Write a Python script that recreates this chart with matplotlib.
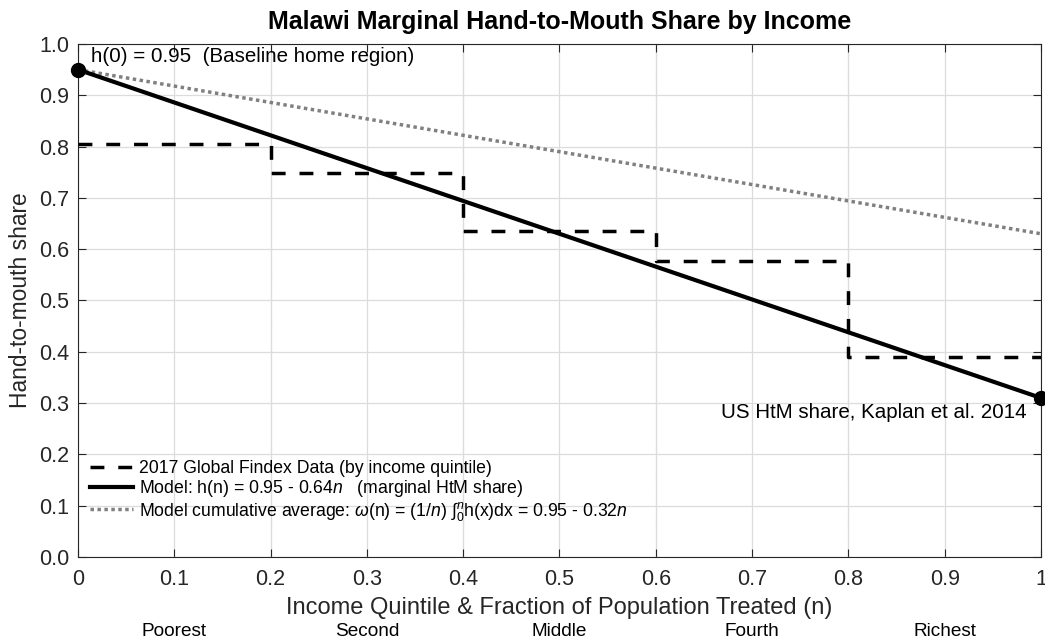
import numpy as np
import matplotlib.pyplot as plt

plt.rcParams['font.family'] = ['Liberation Sans', 'DejaVu Sans']
plt.rcParams['mathtext.fontset'] = 'custom'
plt.rcParams['mathtext.rm'] = 'Liberation Sans'
plt.rcParams['mathtext.it'] = 'Liberation Sans:italic'

# Findex HtM share by income quintile
quintile_edges = [0.0, 0.2, 0.4, 0.6, 0.8, 1.0]
findex_share = [0.805, 0.748, 0.636, 0.577, 0.389]
quintile_names = ['Poorest', 'Second', 'Middle', 'Fourth', 'Richest']

# linear model h(n) = h0 - slope*n
h0 = 0.95
slope = 0.64
n = np.array([0.0, 1.0])
h_marg = h0 - slope * n
h_avg = h0 - slope / 2 * n

x_ticks = [0, 0.1, 0.2, 0.3, 0.4, 0.5, 0.6, 0.7, 0.8, 0.9, 1]
x_ticklabels = ['0', '0.1', '0.2', '0.3', '0.4', '0.5', '0.6', '0.7', '0.8', '0.9', '1']
y_ticks = np.round(np.arange(0, 1.01, 0.1), 1)

fig = plt.figure(figsize=(10.45, 6.42), dpi=100)
ax = fig.add_axes([0.0746, 0.1324, 0.9216, 0.7991])

txt_gray = '#262626'

ax.grid(True, color='#dcdcdc', lw=0.9, zorder=0)
for xb in quintile_edges[1:-1]:
    ax.axvline(xb, color='#a0a0a0', lw=0.8, ls=(0, (1, 1.5)), zorder=1)

step_y = findex_share + [findex_share[-1]]
ax.step(quintile_edges, step_y, where='post', color='black', lw=2.5,
        ls=(0, (4, 4)), zorder=3,
        label='2017 Global Findex Data (by income quintile)')
ax.plot(n, h_marg, color='black', lw=3, zorder=4,
        label=r'Model: h(n) = 0.95 - 0.64$n$   (marginal HtM share)')
ax.plot(n, h_avg, color='#808080', lw=2.5, ls=(0, (1, 1)), zorder=3,
        label='Model cumulative average: $\\omega$(n) = (1/$n$) \u222b${}_0^n$h(x)dx = 0.95 - 0.32$n$')
ax.plot(n, h_marg, 'o', color='black', ms=10, clip_on=False, zorder=5)

ax.text(0.0135, 0.975, 'h(0) = 0.95  (Baseline home region)', fontsize=14.8,
        va='center', ha='left')
ax.text(0.9855, 0.281, 'US HtM share, Kaplan et al. 2014', fontsize=14.8,
        va='center', ha='right')

ax.set_xlim(0, 1)
ax.set_ylim(0, 1)
ax.set_xticks(x_ticks)
ax.set_xticklabels(x_ticklabels)
ax.set_yticks(y_ticks)
ax.set_yticklabels([f'{v:.1f}' for v in y_ticks])
ax.tick_params(direction='in', top=True, right=True, length=6, width=0.8,
               labelsize=15.5, colors=txt_gray)
ax.tick_params(axis='x', pad=9)
ax.tick_params(axis='y', pad=6)
for sp in ax.spines.values():
    sp.set_color(txt_gray)
    sp.set_linewidth(0.8)

fig.text(0.5355, 0.966, 'Malawi Marginal Hand-to-Mouth Share by Income',
         fontsize=18, fontweight='bold', ha='center', va='center')
ax.set_ylabel('Hand-to-mouth share', fontsize=16.4, color=txt_gray,
              va='center')
ax.yaxis.set_label_coords(-0.060, 0.5)
ax.set_xlabel('Income Quintile & Fraction of Population Treated (n)',
              fontsize=17, color=txt_gray, va='center')
ax.xaxis.set_label_coords(0.5, -0.0994)

centers = [(a + b) / 2 for a, b in zip(quintile_edges[:-1], quintile_edges[1:])]
for c, name in zip(centers, quintile_names):
    ax.text(c, -0.146, name, transform=ax.get_xaxis_transform(), ha='center',
            va='center', fontsize=13.7)

leg = ax.legend(loc='lower left', bbox_to_anchor=(0.0, 0.043), frameon=False,
                fontsize=12.7, handlelength=2.4, handletextpad=0.35,
                labelspacing=0.05, borderaxespad=0.3)

fig.savefig('out.png', dpi=100)
